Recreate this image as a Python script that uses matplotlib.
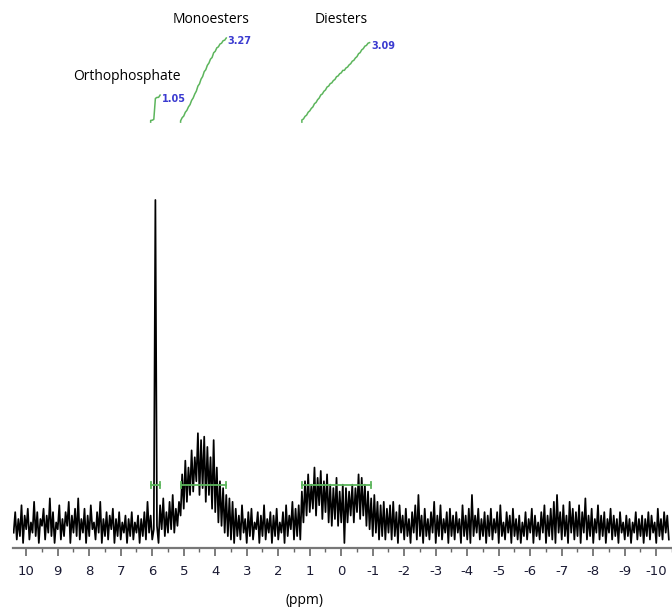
import numpy as np
import matplotlib.pyplot as plt

# 31P NMR spectrum, intensities (0.05 ppm steps, 10.4 -> -10.4)
ppm = np.linspace(10.4, -10.4, 417)
intensity = [
    3, 9, 1, 7, 2, 11, 0, 8, 4, 10, 1, 6, 3, 12, 2, 9, 0, 7, 5, 10,
    1, 8, 3, 13, 2, 9, 0, 6, 4, 11, 1, 7, 2, 9, 5, 12, 0, 8, 3, 10,
    2, 13, 1, 7, 3, 10, 0, 8, 2, 11, 4, 6, 1, 9, 3, 12, 0, 7, 2, 9,
    1, 8, 4, 10, 0, 7, 2, 9, 1, 6, 3, 8, 0, 7, 2, 9, 1, 6, 3, 8,
    0, 7, 2, 9, 1, 12, 3, 8, 1, 4, 100, 5, 0, 11, 4, 13, 2, 9, 3, 12,
    4, 14, 3, 10, 5, 12, 8, 20, 10, 24, 12, 22, 14, 27, 15, 25, 18, 32, 14, 30,
    16, 31, 12, 28, 14, 25, 10, 30, 9, 22, 6, 18, 5, 16, 3, 14, 2, 13, 1, 12,
    0, 10, 2, 8, 1, 11, 3, 7, 0, 9, 2, 10, 1, 6, 4, 9, 0, 8, 2, 11,
    1, 7, 3, 9, 0, 8, 2, 10, 1, 6, 3, 9, 0, 11, 2, 8, 4, 12, 1, 10,
    2, 11, 1, 15, 6, 18, 8, 20, 9, 17, 10, 22, 8, 19, 11, 21, 7, 18, 9, 20,
    6, 17, 5, 16, 7, 19, 5, 15, 6, 17, 0, 16, 6, 15, 8, 17, 6, 16, 9, 20,
    7, 19, 8, 17, 5, 15, 4, 13, 2, 14, 3, 12, 1, 11, 2, 12, 1, 10, 3, 11,
    1, 12, 2, 9, 0, 11, 3, 8, 1, 10, 2, 7, 0, 9, 3, 11, 1, 14, 2, 8,
    0, 10, 2, 7, 1, 9, 3, 12, 0, 8, 2, 11, 1, 7, 3, 9, 0, 10, 2, 8,
    1, 9, 3, 7, 0, 11, 2, 8, 1, 10, 0, 14, 2, 8, 3, 10, 1, 7, 2, 9,
    0, 8, 2, 10, 1, 7, 3, 9, 0, 11, 2, 6, 1, 9, 3, 8, 0, 10, 2, 7,
    1, 8, 0, 6, 2, 9, 1, 7, 3, 10, 0, 8, 2, 6, 1, 9, 3, 11, 0, 8,
    2, 10, 1, 12, 0, 14, 3, 9, 1, 11, 2, 8, 0, 12, 3, 10, 1, 9, 2, 11,
    0, 9, 3, 13, 1, 8, 2, 10, 0, 7, 3, 11, 1, 8, 2, 9, 0, 7, 3, 10,
    1, 8, 2, 7, 0, 9, 3, 6, 1, 8, 2, 7, 0, 6, 3, 9, 1, 7, 2, 8,
    0, 7, 2, 9, 1, 8, 3, 6, 0, 10, 2, 7, 1, 9, 3, 8, 1,
]

# integration regions (ppm from, ppm to), integral values and names
regions = [(6.05, 5.75), (5.1, 3.65), (1.25, -0.95)]
integrals = [1.05, 3.27, 3.09]
names = ['Orthophosphate', 'Monoesters', 'Diesters']
name_pos = [(6.82, 135.9), (4.13, 152.5), (0.0, 152.5)]

green = '#5cb55c'
spec = np.array(intensity, dtype=float)

fig = plt.figure(figsize=(6.72, 6.07), dpi=100)
ax = fig.add_axes([13 / 672, 59 / 607, 659 / 672, 548 / 607])

ax.plot(ppm, spec, color='black', lw=1.25)

int_base = 122.7
int_scale = 7.5
for (p0, p1), val in zip(regions, integrals):
    mask = (ppm <= p0) & (ppm >= p1)
    x = ppm[mask]
    cum = np.cumsum(spec[mask])
    cum = cum / cum[-1]
    y = int_base + cum * val * int_scale
    ax.plot(np.r_[p0, x], np.r_[int_base, y], color=green, lw=1.1)
    ax.text(x[-1] - 0.05, y[-1] - 1.0, f'{val:.2f}', color='#3b3bd0',
            fontsize=7, fontweight='bold', ha='left', va='center')
    # integration bar with end caps
    ax.plot([p0, p1], [16.9, 16.9], color=green, lw=1.3)
    ax.plot([p0, p0], [15.9, 17.9], color=green, lw=1.3)
    ax.plot([p1, p1], [15.9, 17.9], color=green, lw=1.3)

for name, (px, py) in zip(names, name_pos):
    ax.text(px, py, name, fontsize=10, family='Open Sans', ha='center', va='center')

ax.set_xlim(10.42, -10.4)
ax.set_ylim(-1.46, 158.3)
ax.set_xticks(np.arange(-10, 11))
ax.set_xticklabels([str(v) for v in range(-10, 11)])
ax.set_xticks(np.arange(-10.5, 10.5, 1.0), minor=True)
ax.tick_params(axis='x', which='major', length=6, width=1.2, color='#666666',
               labelsize=9.5, labelcolor='#1a1a33', pad=6)
ax.tick_params(axis='x', which='minor', length=3, width=1, color='#666666')
ax.set_yticks([])
for s in ['left', 'top', 'right']:
    ax.spines[s].set_visible(False)
ax.spines['bottom'].set_color('#777777')
ax.spines['bottom'].set_linewidth(1.6)

fig.text(305 / 672, 1 - 600 / 607, '(ppm)', fontsize=10, family='Open Sans',
         ha='center', va='center')

fig.savefig('out.png', dpi=100)
